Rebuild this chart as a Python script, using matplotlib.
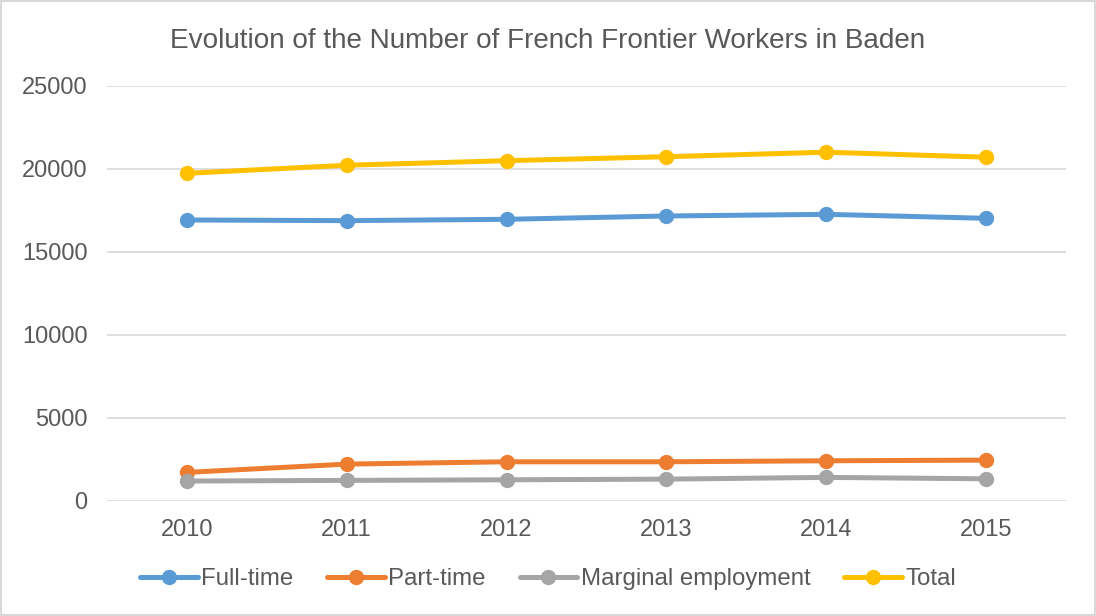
import matplotlib.pyplot as plt
from matplotlib.patches import Rectangle

# Data
years = ["2010", "2011", "2012", "2013", "2014", "2015"]
full_time = [16910, 16870, 16950, 17150, 17250, 17010]
part_time = [1710, 2210, 2350, 2350, 2410, 2450]
marginal = [1190, 1230, 1265, 1305, 1410, 1325]
total = [19720, 20205, 20480, 20720, 20990, 20690]

series = [
    ("Full-time", full_time, "#5B9BD5"),
    ("Part-time", part_time, "#ED7D31"),
    ("Marginal employment", marginal, "#A5A5A5"),
    ("Total", total, "#FFC000"),
]

TEXT = "#595959"
GRID = "#D9D9D9"

plt.rcParams['font.family'] = ['Liberation Sans', 'DejaVu Sans']

fig = plt.figure(figsize=(10.96, 6.16), dpi=100)
ax = fig.add_axes([0.0976, 0.187, 0.875, 0.674])

x = list(range(len(years)))
for name, vals, col in series:
    ax.plot(x, vals, color=col, lw=3.6, marker="o", ms=10, label=name,
            solid_capstyle="round")

ax.set_xlim(-0.5, len(years) - 0.5)
ax.set_ylim(0, 25000)
ax.set_yticks(range(0, 25001, 5000))
ax.set_xticks(x)
ax.set_xticklabels(years)
ax.tick_params(length=0, labelsize=17, colors=TEXT)
ax.tick_params(axis="y", pad=14)
ax.tick_params(axis="x", pad=13)
ax.grid(axis="y", color=GRID, lw=1.2)
ax.set_axisbelow(True)
for s in ax.spines.values():
    s.set_visible(False)

fig.text(0.5, 0.933, "Evolution of the Number of French Frontier Workers in Baden",
         ha="center", va="center", fontsize=20.1, color=TEXT)

leg = fig.legend(loc="center", bbox_to_anchor=(0.5, 0.06), ncol=4, frameon=False,
                 fontsize=17.3, labelcolor=TEXT, handlelength=2.4, handletextpad=0.15,
                 columnspacing=1.4)

# thin border around the chart area
fig.patches.append(Rectangle((0.001, 0.001), 0.998, 0.998, transform=fig.transFigure,
                             fill=False, edgecolor=GRID, lw=1.5))

fig.savefig("out.png", dpi=100)
